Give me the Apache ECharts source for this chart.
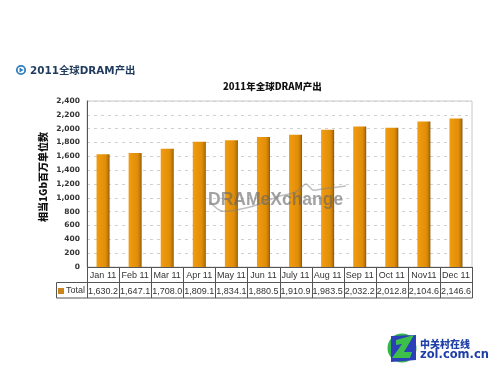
<!DOCTYPE html>
<html><head><meta charset="utf-8">
<style>html,body{margin:0;padding:0;background:#fff}#c{width:500px;height:375px}</style>
<script src="https://cdn.jsdelivr.net/npm/echarts@6/dist/echarts.min.js"></script>
</head><body><div id="c"></div>
<script>
const categories = ['Jan 11','Feb 11','Mar 11','Apr 11','May 11','Jun 11','July 11','Aug 11','Sep 11','Oct 11','Nov11','Dec 11'];
const totals = [1630.2,1647.1,1708.0,1809.1,1834.1,1880.5,1910.9,1983.5,2032.2,2012.8,2104.6,2146.6];
const totalLabels = ['1,630.2','1,647.1','1,708.0','1,809.1','1,834.1','1,880.5','1,910.9','1,983.5','2,032.2','2,012.8','2,104.6','2,146.6'];
const seriesName = 'Total';
const heading = '2011全球DRAM产出';
const yAxisName = '相当1Gb百万单位数';

const L=87,R=472,T=101,B=267,R1=282.5,R2=298,LL=56;
const chart = echarts.init(document.getElementById('c'),null,{renderer:'canvas'});
const stroke={stroke:'#555',lineWidth:1};
const line=(x1,y1,x2,y2)=>({type:'line',silent:true,shape:{x1,y1,x2,y2},style:stroke,z:5});
const cw=(R-L)/categories.length;
const tableLines=[line(L+.5,B+.5,R+.5,B+.5),line(LL+.5,R1,R+.5,R1),line(LL+.5,R2,R+.5,R2),line(LL+.5,R1,LL+.5,R2)];
for(let i=0;i<=categories.length;i++){const x=Math.round(L+i*cw)+.5;tableLines.push(line(x,B,x,R2));}
const f='Liberation Sans, Arial, sans-serif';
const cjk='Noto Sans CJK SC, sans-serif';
chart.setOption({
  animation:false,backgroundColor:'#fff',
  title:{text:'2011年全球DRAM产出',left:218,top:77,textStyle:{fontSize:9.5,fontWeight:900,color:'#111',fontFamily:cjk}},
  grid:{left:L,right:500-R,top:T,bottom:375-B,containLabel:false},
  xAxis:[
   {type:'category',data:categories,axisTick:{show:false},axisLine:{show:false},
    axisLabel:{interval:0,margin:4,fontSize:9,color:'#333',fontFamily:f},splitLine:{show:false}},
   {type:'category',position:'bottom',offset:16.5,data:totalLabels,axisTick:{show:false},axisLine:{show:false},
    axisLabel:{interval:0,margin:4,fontSize:9,color:'#333',fontFamily:f}}
  ],
  yAxis:{type:'value',min:0,max:2400,interval:200,
    axisLine:{show:true,lineStyle:{color:'#555'}},axisTick:{show:false},
    axisLabel:{margin:7,fontSize:7.5,fontWeight:'bold',color:'#333',fontFamily:'DejaVu Sans, sans-serif',
      formatter:v=>v.toLocaleString('en-US')},
    splitLine:{show:true,lineStyle:{color:'#d0d0d0',type:[3,4]}}},
  series:[{name:seriesName,type:'bar',barWidth:13,data:totals,
    itemStyle:{color:new echarts.graphic.LinearGradient(0,0,1,0,[
      {offset:0,color:'#f29c10'},{offset:.7,color:'#e08d08'},{offset:.9,color:'#b87408'},{offset:1,color:'#7a5208'}])}}],
  graphic:[
    {type:'rect',silent:true,shape:{x:L,y:T,width:R-L,height:B-T},style:{fill:'none',stroke:'#c8c8c8',lineWidth:1},z:0},
    ...tableLines,
    {type:'rect',silent:true,shape:{x:58,y:288,width:6,height:6},style:{fill:'#c9851a'},z:6},
    {type:'text',silent:true,style:{x:66,y:291,text:seriesName,fontSize:9,fontFamily:f,fill:'#333',verticalAlign:'middle'},z:6},
    {type:'text',silent:true,x:43,y:177,rotation:Math.PI/2,style:{x:0,y:0,text:yAxisName,fontSize:10,fontWeight:900,fill:'#111',fontFamily:cjk,align:'center',verticalAlign:'middle'},z:6},
    {type:'circle',silent:true,shape:{cx:21,cy:70,r:4.2},style:{fill:'#fff',stroke:'#2f7fc0',lineWidth:1.8},z:6},
    {type:'polygon',silent:true,shape:{points:[[19.5,67.5],[23.5,70],[19.5,72.5]]},style:{fill:'#2f7fc0'},z:6},
    {type:'text',silent:true,style:{x:30,y:71,text:heading,fontSize:10.4,fontWeight:'bold',fill:'#1f3a5c',fontFamily:'DejaVu Sans, Noto Sans CJK SC, sans-serif',verticalAlign:'middle'},z:6},
    {type:'text',silent:true,style:{x:208,y:200,text:'DRAMeXchange',fontSize:17.5,fontWeight:'bold',fill:'rgba(100,100,100,.6)',fontFamily:f,verticalAlign:'middle'},z:20},
    {type:'polyline',silent:true,shape:{smooth:.3,points:[[210,202],[222,211],[250,207],[280,196],[296,192],[306,184],[313,190],[322,189],[346,186]]},style:{stroke:'rgba(130,130,130,.5)',lineWidth:1.5,fill:'none'},z:20},
    {type:'circle',silent:true,shape:{cx:402,cy:348,r:14.5},style:{fill:'#35b44a'},z:6},
    {type:'polygon',silent:true,shape:{points:[[391,336],[416,335],[416,360],[391,362]]},style:{fill:'#2a3fb8'},z:7},
    {type:'polygon',silent:true,shape:{points:[[396,340],[414,335],[404,352],[412,352],[410,358],[392,358],[402,344],[396,345]]},style:{fill:'#3cc04a'},z:8},
    {type:'text',silent:true,style:{x:420,y:344,text:'中关村在线',fontSize:10,fontWeight:900,fill:'#1f3fa8',fontFamily:cjk,verticalAlign:'middle'},z:6},
    {type:'text',silent:true,style:{x:420,y:355,text:'zol.com.cn',fontSize:11.5,fontWeight:'bold',fill:'#1f3fa8',fontFamily:'DejaVu Sans, sans-serif',verticalAlign:'middle'},z:6}
  ]
});
</script></body></html>
